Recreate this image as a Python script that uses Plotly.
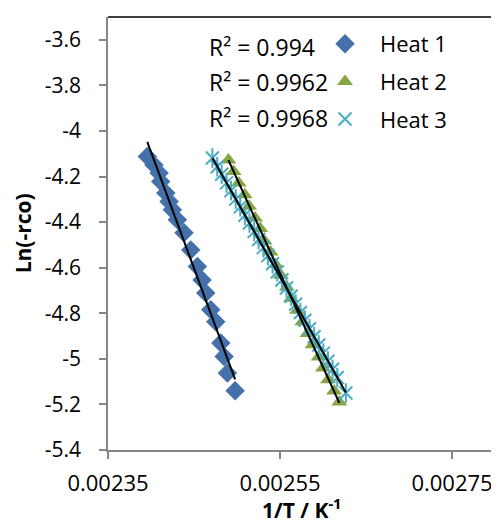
import numpy as np
import plotly.graph_objects as go

# ---------------- data ----------------
heat1_x = [0.0023957, 0.0024035, 0.0024094, 0.0024113, 0.0024172, 0.0024210,
           0.0024248, 0.0024307, 0.0024384, 0.0024462, 0.0024539, 0.0024594,
           0.0024637, 0.0024695, 0.0024753, 0.0024812, 0.0024850, 0.0024888,
           0.0024978]
heat1_y = [-4.112, -4.149, -4.184, -4.222, -4.272, -4.310, -4.346, -4.390,
           -4.447, -4.522, -4.595, -4.654, -4.711, -4.785, -4.837, -4.930,
           -4.990, -5.062, -5.140]

heat2_x = [0.002490, 0.002496, 0.002502, 0.002509, 0.002514, 0.002521,
           0.002527, 0.002532, 0.002539, 0.002545, 0.002551, 0.002558,
           0.002563, 0.002570, 0.002576, 0.002582, 0.002588, 0.002595,
           0.002600, 0.002606, 0.002613, 0.002619]
heat2_y = [-4.127, -4.178, -4.228, -4.280, -4.330, -4.382, -4.428, -4.483,
           -4.531, -4.586, -4.633, -4.686, -4.735, -4.787, -4.837, -4.889,
           -4.938, -4.992, -5.040, -5.092, -5.141, -5.189]

heat3_x = [0.0024714, 0.0024770, 0.0024822, 0.0024878, 0.0024930, 0.0024985,
           0.0025038, 0.0025092, 0.0025145, 0.0025200, 0.0025252, 0.0025307,
           0.0025360, 0.0025414, 0.0025468, 0.0025522, 0.0025575, 0.0025629,
           0.0025682, 0.0025737, 0.0025790, 0.0025844, 0.0025897, 0.0025951,
           0.0026004, 0.0026058, 0.0026111, 0.0026166, 0.0026266]
heat3_y = [-4.119, -4.157, -4.190, -4.228, -4.262, -4.299, -4.333, -4.370,
           -4.404, -4.441, -4.476, -4.512, -4.547, -4.583, -4.618, -4.654,
           -4.689, -4.725, -4.760, -4.797, -4.831, -4.868, -4.903, -4.939,
           -4.975, -5.010, -5.046, -5.082, -5.150]

series_names = ["Heat 1", "Heat 2", "Heat 3"]
r2_labels = ["R² = 0.994", "R² = 0.9962", "R² = 0.9968"]

y_ticks = [-5.4, -5.2, -5.0, -4.8, -4.6, -4.4, -4.2, -4.0, -3.8, -3.6]
y_ticktext = ["-5.4", "-5.2", "-5", "-4.8", "-4.6", "-4.4", "-4.2", "-4", "-3.8", "-3.6"]
x_ticks = [0.00235, 0.00255, 0.00275]
x_ticktext = ["0.00235", "0.00255", "0.00275"]

# ---------------- styles ----------------
FONT = "Open Sans"
C1 = "#4471AA"
C2 = "#86A544"
C3 = "#4BACC6"
AXIS = "#868686"


def trend(xs, ys):
    xs = np.asarray(xs)
    ys = np.asarray(ys)
    k, b = np.polyfit(xs, ys, 1)
    xx = np.array([xs.min(), xs.max()])
    return xx, k * xx + b


fig = go.Figure()

fig.add_trace(go.Scatter(x=heat1_x, y=heat1_y, mode="markers", name=series_names[0],
                         legendgroup="h1",
                         marker=dict(symbol="diamond", size=15, color=C1)))
fig.add_trace(go.Scatter(x=heat2_x, y=heat2_y, mode="markers", name=series_names[1],
                         legendgroup="h2",
                         marker=dict(symbol="triangle-up", size=14, color=C2)))
fig.add_trace(go.Scatter(x=heat3_x, y=heat3_y, mode="markers", name=series_names[2],
                         legendgroup="h3",
                         marker=dict(symbol="x-thin-open", size=13, color=C3,
                                     line=dict(color=C3, width=2))))
fig.add_trace(go.Scatter(x=heat3_x, y=heat3_y, mode="markers", showlegend=False,
                         legendgroup="h3",
                         marker=dict(symbol="line-ns-open", size=14, color=C3,
                                     line=dict(color=C3, width=2))))

for xs, ys in [(heat1_x, heat1_y), (heat2_x, heat2_y), (heat3_x, heat3_y)]:
    tx, ty = trend(xs, ys)
    fig.add_trace(go.Scatter(x=tx, y=ty, mode="lines", showlegend=False,
                             line=dict(color="black", width=2)))

# R² labels
r2_y = [0.931, 0.850, 0.767]
for lab, yy in zip(r2_labels, r2_y):
    fig.add_annotation(text=lab, xref="paper", yref="paper", x=0.255, y=yy,
                       xanchor="left", yanchor="middle", showarrow=False,
                       font=dict(family=FONT, size=23, color="black"))

# axis titles
fig.add_annotation(text="<b>1/T / K<sup>-1</sup></b>", xref="paper", yref="paper",
                   x=0.5, y=-0.136, xanchor="center", yanchor="middle",
                   showarrow=False, font=dict(family=FONT, size=21, color="black"))
fig.add_annotation(text="<b>Ln(-rco)</b>", xref="paper", yref="paper",
                   x=-0.22, y=0.5, xanchor="center", yanchor="middle",
                   textangle=-90, showarrow=False,
                   font=dict(family=FONT, size=21, color="black"))

fig.add_shape(type="line", xref="paper", yref="paper", x0=0, x1=1, y0=1, y1=1,
              line=dict(color="black", width=1.5))
fig.add_shape(type="line", xref="paper", yref="paper", x0=1, x1=1, y0=0, y1=1,
              line=dict(color="black", width=1.5))

fig.update_layout(
    width=491, height=515,
    margin=dict(l=100, r=4, t=9, b=73, autoexpand=False),
    paper_bgcolor="white", plot_bgcolor="white",
    font=dict(family=FONT, size=20, color="black"),
    showlegend=True,
    legend=dict(x=0.522, y=0.986, xanchor="left", yanchor="top",
                bgcolor="rgba(0,0,0,0)", tracegroupgap=6,
                font=dict(family=FONT, size=22, color="black"),
                itemwidth=60),
    xaxis=dict(range=[0.00235, 0.0028], tickvals=x_ticks, ticktext=x_ticktext,
               showgrid=False, zeroline=False, showline=True, linecolor=AXIS,
               linewidth=1.5, ticks="outside", ticklen=7, tickcolor=AXIS,
               tickwidth=1.5, ticklabelstandoff=6, automargin=False,
               tickfont=dict(family=FONT, size=22)),
    yaxis=dict(range=[-5.4, -3.5], tickvals=y_ticks, ticktext=y_ticktext,
               showgrid=False, zeroline=False, showline=True, linecolor=AXIS,
               linewidth=1.5, ticks="outside", ticklen=7, tickcolor=AXIS,
               tickwidth=1.5, ticklabelstandoff=14, automargin=False,
               tickfont=dict(family=FONT, size=21)),
)

fig.write_html("out.html")
